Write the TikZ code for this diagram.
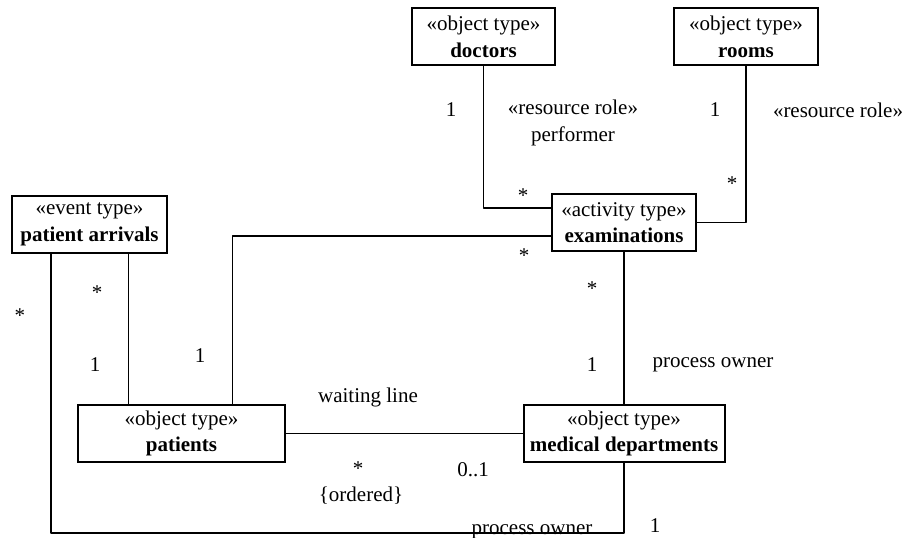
\documentclass[tikz,border=0pt]{standalone}
\usepackage{fontspec}
\setmainfont{Liberation Serif}

\begin{document}
\begin{tikzpicture}[line cap=round,line join=round,x=0.75pt,y=-0.75pt,
    every node/.style={font=\fontsize{15.75}{20}\selectfont},
    typebox/.style={draw,line width=1.5pt,line join=miter,align=center,minimum height=42.75pt,inner xsep=3pt,inner ysep=2pt},
    link/.style={line width=0.8pt}]
	\clip(0,0) rectangle (906,537);
	% type boxes
	\node[typebox,minimum width=107.25pt] (doctors) at (483.5,36.5) {«object type»\\\textbf{doctors}};
	\node[typebox,minimum width=108pt] (rooms) at (746,36.5) {«object type»\\\textbf{rooms}};
	\node[typebox,minimum width=108pt] (exam) at (624,222.5) {«activity type»\\\textbf{examinations}};
	\node[typebox,minimum width=116.25pt] (event) at (89.5,224.5) {«event type»\\\textbf{patient arrivals}};
	\node[typebox,minimum width=155.25pt] (patients) at (181.5,433.5) {«object type»\\\textbf{patients}};
	\node[typebox,minimum width=150.75pt] (medical) at (624,433.5) {«object type»\\\textbf{medical departments}};
	% helper points
	\coordinate (evl) at ([xshift=-28.9pt]event.south);
	\coordinate (evr) at ([xshift=28.9pt]event.south);
	\coordinate (patup) at ([xshift=37.9pt]patients.north);
	\coordinate (low) at (0,533);
	% associations
	\draw[link] (doctors.south) |- ([yshift=10.9pt]exam.west);
	\draw[link] (rooms.south) |- (exam.east);
	\draw[link] ([yshift=-10.1pt]exam.west) -| (patup);
	\draw[link] (exam.south) -- (medical.north);
	\draw[link] (patients.east) -- (medical.west);
	\draw[link] (evr) -- (evr |- patients.north);
	\draw[link] (evl) |- (low -| medical.south) -- (medical.south);
	% multiplicities and roles
	\node (docone) at (451,110) {1};
	\node (docrole) at (573,123) [align=center] {«resource role»\\performer};
	\node (roomone) at (715,110) {1};
	\node (roomrole) at (838,110) {«resource role»};
	\node (docmany) at (523,196) {*};
	\node (roommany) at (732,184) {*};
	\node (patmany) at (524,256) {*};
	\node (ownmany) at (592,289) {*};
	\node (ownone) at (592,365) {1};
	\node (ownrole) at (713,365) {process owner};
	\node (evlmany) at (20,316) {*};
	\node (evrmany) at (97,293) {*};
	\node (evrone) at (95,365) {1};
	\node (patone) at (200,356) {1};
	\node (waitrole) at (368,397) {waiting line};
	\node (waitmany) at (358,469) {*};
	\node (waitord) at (361,496) {\{ordered\}};
	\node (waitone) at (473,470) {0..1};
	\node[anchor=base] (lowrole) at (532,534) {process owner};
	\node (lowone) at (655,526) {1};
\end{tikzpicture}
\end{document}
